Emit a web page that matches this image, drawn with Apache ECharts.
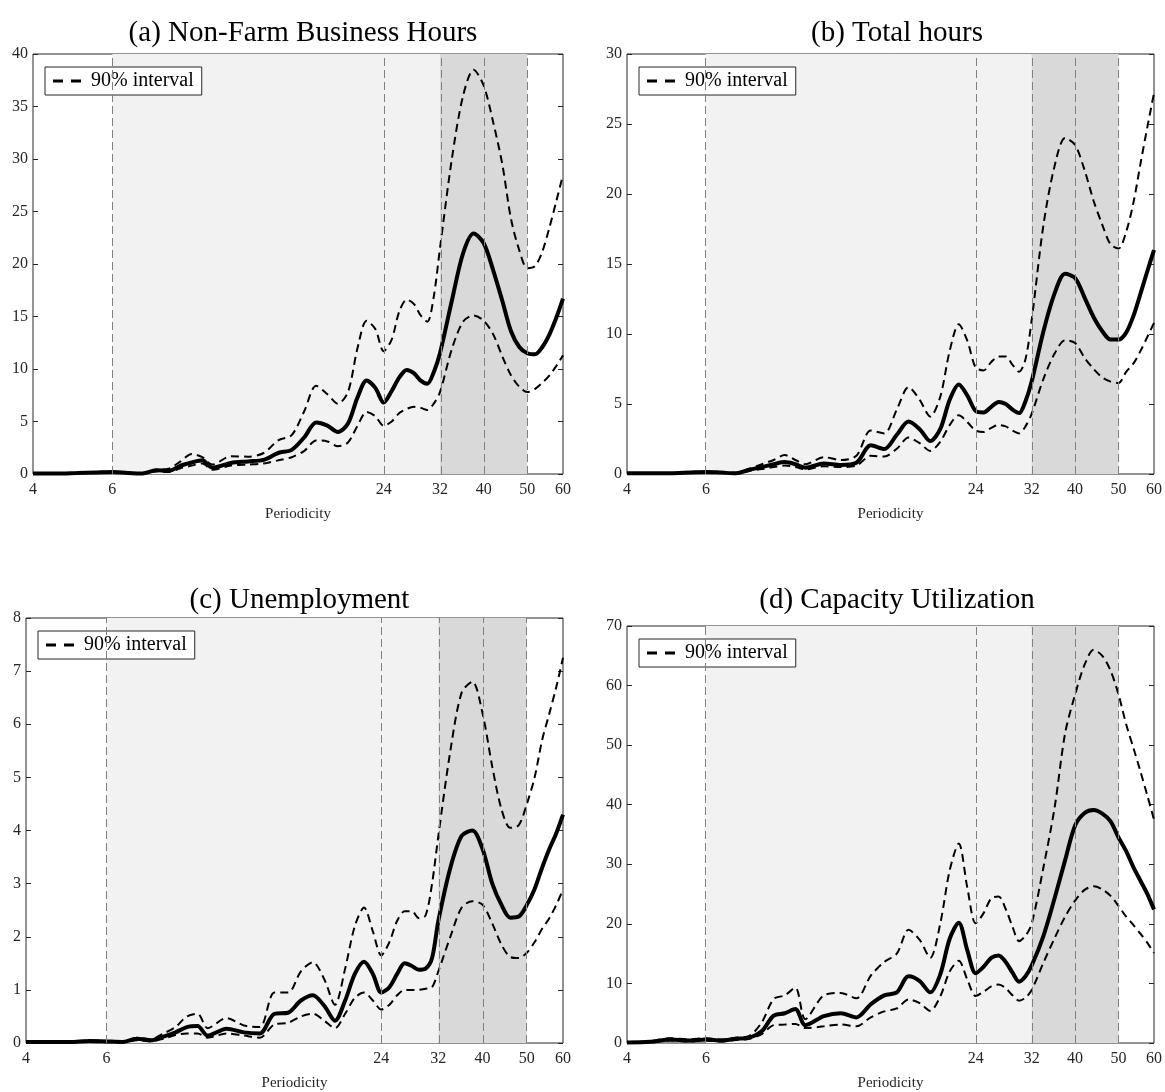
<!DOCTYPE html>
<html><head><meta charset="utf-8">
<script src="https://cdn.jsdelivr.net/npm/echarts@6/dist/echarts.min.js"></script>
<style>html,body{margin:0;padding:0;background:#fff}#c{width:1165px;height:1092px}</style>
</head><body><div id="c"></div>
<script>
// ---------- data ----------
const periods = [4,4.5,5,5.5,6,6.5,7,7.5,8,8.5,9,9.5,10,11,12,13,14,15,16,17,18,19,20,21,22,23,24,25,26,27,28,29,30,31,32,34,36,38,40,42,44,46,48,50,52,54,56,58,60];
const tickPeriods = [4,6,24,32,40,50,60];
const markPeriods = [6,24,32,40,50];
const titles = ['(a) Non-Farm Business Hours','(b) Total hours','(c) Unemployment','(d) Capacity Utilization'];
const yMaxs = [40,30,8,70];
const ySteps = [5,5,1,10];

// (a) Non-Farm Business Hours
const nfbMid = [0.05,0.05,0.1,0.15,0.2,0.1,0.05,0.35,0.3,0.8,1.1,1.3,0.6,1.05,1.2,1.35,2.0,2.3,3.5,4.9,4.6,4.0,4.8,7.3,8.9,8.2,6.8,7.9,9.2,9.9,9.6,8.9,8.6,9.7,11.5,16.5,21.0,22.9,22.0,19.4,16.5,13.6,12.1,11.5,11.4,12.1,13.3,14.9,16.7];
const nfbHi  = [0.07,0.07,0.12,0.18,0.24,0.13,0.08,0.4,0.5,1.2,1.9,1.6,0.9,1.7,1.65,2.0,3.2,3.7,6.0,8.4,7.6,6.7,7.8,12.0,14.6,13.8,11.7,12.8,15.5,16.6,16.2,15.1,14.5,16.9,21.5,30.0,36.0,38.5,37.0,33.5,29.5,24.3,21.3,19.6,19.8,21.2,23.5,26.0,28.5];
const nfbLo  = [0.03,0.03,0.07,0.1,0.15,0.07,0.03,0.25,0.2,0.55,0.8,1.0,0.4,0.8,0.9,1.0,1.3,1.6,2.2,3.2,3.1,2.65,3.0,4.6,5.9,5.5,4.6,5.0,5.8,6.2,6.4,6.3,6.1,6.7,7.8,11.9,14.5,15.1,14.6,13.3,11.2,9.4,8.3,7.8,8.1,8.7,9.4,10.3,11.3];

// (b) Total hours
const totMid = [0.05,0.05,0.05,0.1,0.15,0.1,0.05,0.3,0.5,0.7,0.85,0.7,0.45,0.75,0.65,0.8,2.05,1.78,2.8,3.75,3.2,2.35,3.2,5.3,6.4,5.6,4.5,4.4,4.8,5.15,5.0,4.6,4.35,5.2,6.6,10.2,12.9,14.3,14.0,12.6,11.2,10.2,9.6,9.6,10.1,11.3,12.9,14.5,16.0];
const totHi  = [0.07,0.07,0.07,0.13,0.18,0.13,0.08,0.38,0.7,1.0,1.35,1.0,0.7,1.2,1.0,1.3,3.1,2.9,4.6,6.2,5.3,4.1,5.5,8.8,10.7,9.5,7.6,7.4,8.0,8.4,8.4,7.8,7.3,8.2,11.0,17.8,22.0,24.0,23.5,21.7,19.5,17.8,16.4,16.1,17.3,19.4,22.2,24.8,27.2];
const totLo  = [0.03,0.03,0.03,0.07,0.1,0.07,0.03,0.22,0.35,0.5,0.6,0.5,0.33,0.55,0.5,0.6,1.3,1.25,1.8,2.6,2.2,1.65,2.3,3.5,4.2,3.7,3.1,3.0,3.3,3.5,3.4,3.1,2.9,3.4,4.3,6.8,8.6,9.55,9.35,8.3,7.5,6.9,6.6,6.5,7.3,7.9,8.8,9.8,10.8];

// (c) Unemployment
const unMid = [0.02,0.02,0.02,0.04,0.03,0.02,0.08,0.05,0.12,0.2,0.3,0.32,0.14,0.27,0.2,0.18,0.55,0.57,0.8,0.9,0.7,0.42,0.8,1.3,1.53,1.3,0.95,1.05,1.3,1.5,1.45,1.38,1.4,1.6,2.3,3.3,3.9,4.0,3.65,3.0,2.6,2.36,2.38,2.6,2.9,3.3,3.65,3.95,4.3];
const unHi  = [0.03,0.03,0.03,0.05,0.04,0.03,0.1,0.07,0.18,0.3,0.5,0.55,0.28,0.47,0.33,0.3,0.95,0.95,1.35,1.52,1.2,0.72,1.4,2.2,2.55,2.1,1.65,1.9,2.3,2.48,2.48,2.35,2.4,3.0,3.9,5.5,6.6,6.8,6.2,5.2,4.4,4.05,4.1,4.5,5.0,5.7,6.2,6.7,7.25];
const unLo  = [0.01,0.01,0.01,0.03,0.02,0.01,0.05,0.03,0.08,0.15,0.18,0.18,0.1,0.18,0.14,0.1,0.35,0.38,0.5,0.55,0.42,0.28,0.55,0.85,0.95,0.8,0.63,0.72,0.9,1.0,1.0,1.0,1.02,1.05,1.35,2.0,2.55,2.67,2.6,2.25,1.85,1.62,1.6,1.7,1.9,2.15,2.35,2.6,2.89];

// (d) Capacity Utilization
const cuMid = [0.1,0.2,0.6,0.4,0.6,0.4,0.7,0.9,2.0,4.6,5.0,5.7,3.0,4.5,5.0,4.3,6.5,8.0,8.5,11.2,10.4,8.5,11.5,17.5,20.2,15.5,11.7,12.8,14.3,14.7,13.6,11.8,10.3,11.2,13.0,18.0,24.3,30.7,36.5,38.6,39.1,38.5,37.2,34.5,32.2,29.5,27.2,25.0,22.4];
const cuHi  = [0.15,0.3,0.8,0.6,0.8,0.6,0.9,1.2,3.5,7.4,8.0,9.3,4.0,8.0,8.4,7.5,11.3,13.6,15.0,19.0,17.3,14.3,20.0,29.0,33.5,26.0,20.1,21.8,24.3,24.6,22.5,19.5,17.1,18.0,20.0,29.5,39.5,52.0,58.5,63.5,66.0,65.0,62.5,58.5,53.5,49.5,45.5,41.5,37.5];
const cuLo  = [0.05,0.1,0.4,0.25,0.4,0.25,0.5,0.7,1.5,3.0,3.1,3.2,2.5,2.8,3.1,2.8,4.3,5.3,5.8,7.3,6.7,5.4,7.8,12.0,13.8,10.6,7.9,8.6,9.5,9.8,9.2,8.0,7.1,7.6,8.9,13.5,17.6,21.2,23.9,25.7,26.3,25.8,24.7,23.0,21.2,19.8,18.3,16.8,15.1];

const mids = [nfbMid, totMid, unMid, cuMid];
const his  = [nfbHi, totHi, unHi, cuHi];
const los  = [nfbLo, totLo, unLo, cuLo];

// ---------- layout / style ----------
const FONT = 'Liberation Serif';
const INK = '#262626';
const grids = [
  {left: 33,  top: 54,  width: 530, height: 420},
  {left: 627, top: 54,  width: 530, height: 420},
  {left: 26,  top: 618, width: 537, height: 425},
  {left: 627, top: 626, width: 530, height: 417}
];
const titleY = [14, 14, 581, 581];

const chart = echarts.init(document.getElementById('c'), null, {renderer: 'canvas'});
const ln = Math.log;
const pairs = arr => periods.map((p, k) => [ln(p), arr[k]]);
const dashIcon = 'path://M0,0H10V3H0Z M18,0H28V3H18Z';

const option = {
  animation: false,
  backgroundColor: '#fff',
  title: titles.map((t, i) => ({
    text: t,
    left: grids[i].left + grids[i].width / 2,
    top: titleY[i],
    textAlign: 'center',
    textStyle: {fontFamily: FONT, fontSize: 29, fontWeight: 'normal', color: '#000'}
  })),
  legend: grids.map(g => ({
    data: [{name: '90% interval', icon: dashIcon}],
    formatter: name => ' ' + name,
    left: g.left + 12,
    top: g.top + 13,
    orient: 'horizontal',
    backgroundColor: '#fff',
    borderColor: INK,
    borderWidth: 1,
    borderRadius: 0,
    padding: [4, 8, 4, 8],
    itemWidth: 28,
    itemHeight: 3,
    selectedMode: false,
    itemStyle: {color: '#000', borderWidth: 0},
    textStyle: {fontFamily: FONT, fontSize: 20, color: '#000'}
  })),
  grid: grids.map(g => ({
    left: g.left, top: g.top, width: g.width, height: g.height,
    show: true, borderColor: INK, borderWidth: 1, backgroundColor: 'transparent'
  })),
  xAxis: grids.map((g, i) => ({
    type: 'value',
    gridIndex: i,
    min: ln(4),
    max: ln(60),
    axisLine: {show: false},
    axisTick: {show: false},
    splitLine: {show: false},
    axisLabel: {
      customValues: tickPeriods.map(ln),
      formatter: v => String(Math.round(Math.exp(v))),
      fontFamily: FONT, fontSize: 16, color: INK, margin: 8
    },
    name: 'Periodicity',
    nameLocation: 'middle',
    nameGap: 33,
    nameTextStyle: {fontFamily: FONT, fontSize: 15, color: INK}
  })),
  yAxis: [].concat(...grids.map((g, i) => ([
    {
      type: 'value', gridIndex: i, min: 0, max: yMaxs[i], interval: ySteps[i],
      axisLine: {show: false},
      axisTick: {show: true, inside: true, length: 5, lineStyle: {color: INK}},
      splitLine: {show: false},
      axisLabel: {fontFamily: FONT, fontSize: 16, color: INK, margin: 5}
    },
    {
      type: 'value', gridIndex: i, position: 'right', min: 0, max: yMaxs[i], interval: ySteps[i],
      axisLine: {show: false},
      axisTick: {show: true, inside: true, length: 5, lineStyle: {color: INK}},
      splitLine: {show: false},
      axisLabel: {show: false}
    }
  ]))),
  series: [].concat(...grids.map((g, i) => ([
    {
      type: 'line', name: 'shade', xAxisIndex: i, yAxisIndex: 2 * i, data: [],
      silent: true,
      markArea: {
        silent: true,
        data: [
          [{xAxis: ln(6), itemStyle: {color: '#f2f2f2'}}, {xAxis: ln(32)}],
          [{xAxis: ln(32), itemStyle: {color: '#d9d9d9'}}, {xAxis: ln(50)}]
        ]
      },
      markLine: {
        silent: true, symbol: 'none', label: {show: false},
        lineStyle: {color: '#808080', type: [8, 4], width: 1},
        data: markPeriods.map(p => ({xAxis: ln(p)}))
      }
    },
    {
      type: 'line', name: '90% interval', xAxisIndex: i, yAxisIndex: 2 * i,
      data: pairs(his[i]), symbol: 'none', smooth: 0.3, silent: true,
      itemStyle: {color: '#000'},
      lineStyle: {color: '#000', width: 2, type: [8, 5]}, z: 3
    },
    {
      type: 'line', name: '90% interval', xAxisIndex: i, yAxisIndex: 2 * i,
      data: pairs(los[i]), symbol: 'none', smooth: 0.3, silent: true,
      itemStyle: {color: '#000'},
      lineStyle: {color: '#000', width: 2, type: [8, 5]}, z: 3
    },
    {
      type: 'line', name: 'Median', xAxisIndex: i, yAxisIndex: 2 * i,
      data: pairs(mids[i]), symbol: 'none', smooth: 0.3, silent: true,
      itemStyle: {color: '#000'},
      lineStyle: {color: '#000', width: 4}, z: 4
    }
  ])))
};
chart.setOption(option);
</script>
</body></html>
